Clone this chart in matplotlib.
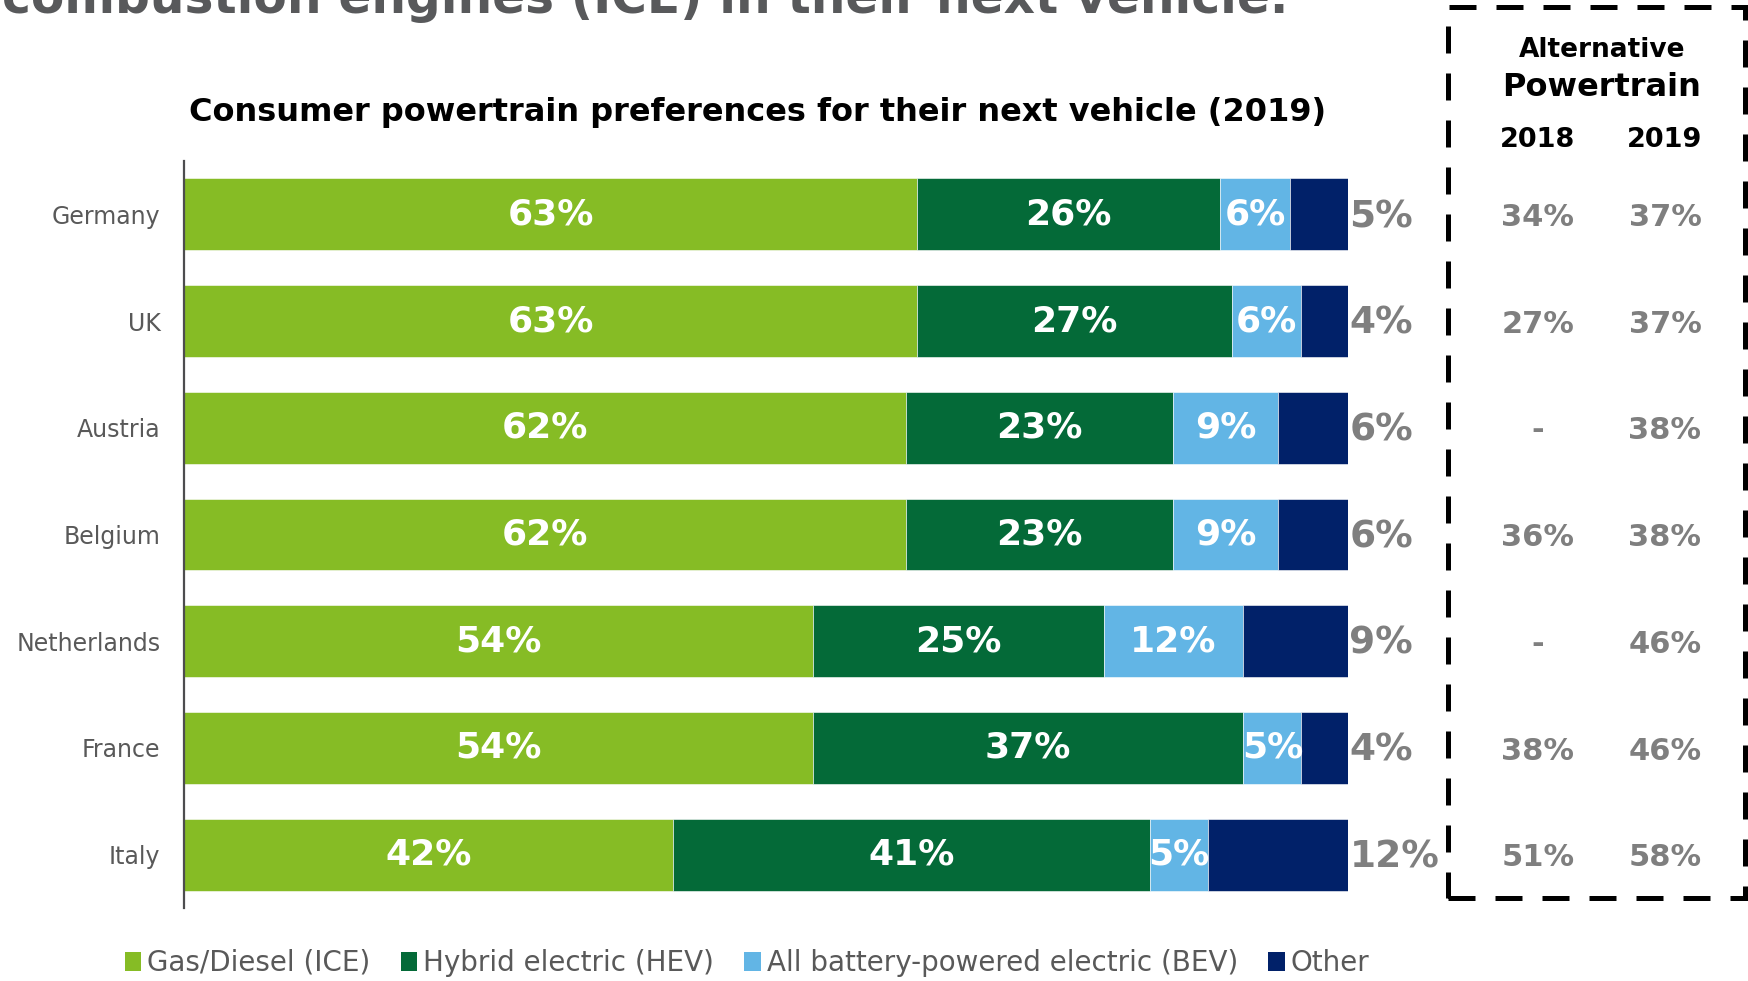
import matplotlib
matplotlib.use("Agg")
import matplotlib.pyplot as plt
import numpy as np
from matplotlib.patches import Rectangle, Patch
from matplotlib.transforms import blended_transform_factory

countries = ["Germany", "UK", "Austria", "Belgium", "Netherlands", "France", "Italy"]
ice = [63, 63, 62, 62, 54, 54, 42]
hev = [26, 27, 23, 23, 25, 37, 41]
bev = [6, 6, 9, 9, 12, 5, 5]
other = [5, 4, 6, 6, 9, 4, 12]
alt_2018 = ["34%", "27%", "-", "36%", "-", "38%", "51%"]
alt_2019 = ["37%", "37%", "38%", "38%", "46%", "46%", "58%"]

series_names = ["Gas/Diesel (ICE)", "Hybrid electric (HEV)",
                "All battery-powered electric (BEV)", "Other"]
colors = ["#86bc25", "#046a38", "#62b5e5", "#012169"]
GRAY = "#7f7f7f"
DARK = "#595959"

W, H = 1749, 981
fig = plt.figure(figsize=(W / 100, H / 100), dpi=100)
ax = fig.add_axes([184 / W, 1 - 908 / H, (1348 - 184) / W, (908 - 161) / H])

y = np.arange(len(countries))
left = np.zeros(len(countries))
for i, vals in enumerate([ice, hev, bev, other]):
    vals = np.array(vals, dtype=float)
    ax.barh(y, vals, left=left, height=0.674, color=colors[i],
            edgecolor="white", linewidth=0.4)
    if i < 3:
        for yy, l, v in zip(y, left, vals):
            ax.text(l + v / 2, yy, f"{int(v)}%", ha="center", va="center",
                    color="white", fontsize=26, fontweight="bold")
    else:
        for yy, v in zip(y, vals):
            ax.annotate(f"{int(v)}%", (100, yy), xytext=(1, -2),
                        textcoords="offset points", ha="left", va="center",
                        color=GRAY, fontsize=27, fontweight="bold",
                        annotation_clip=False)
    left = left + vals

ax.set_xlim(0, 100)
ax.set_ylim(len(countries) - 0.5, -0.5)
ax.set_yticks(y)
ax.set_yticklabels(countries, fontsize=17, color=DARK)
ax.tick_params(axis="y", length=0, pad=17)
ax.set_xticks([])
for s in ["top", "right", "bottom"]:
    ax.spines[s].set_visible(False)
ax.spines["left"].set_color("#4d4d4f")
ax.spines["left"].set_linewidth(1.6)

# side table of alternative powertrain shares
tr = blended_transform_factory(fig.transFigure, ax.transData)
for yy, a, b in zip(y, alt_2018, alt_2019):
    fig.text(1538 / W, yy + 0.03, a, transform=tr, ha="center", va="center",
             color=GRAY, fontsize=22, fontweight="bold")
    fig.text(1665 / W, yy + 0.03, b, transform=tr, ha="center", va="center",
             color=GRAY, fontsize=22, fontweight="bold")

fig.text(1602 / W, 1 - 50 / H, "Alternative", ha="center", va="center",
         fontsize=19, fontweight="bold", color="black")
fig.text(1602 / W, 1 - 87 / H, "Powertrain", ha="center", va="center",
         fontsize=23, fontweight="bold", color="black")
fig.text(1538 / W, 1 - 140 / H, "2018", ha="center", va="center",
         fontsize=19.5, fontweight="bold", color="black")
fig.text(1665 / W, 1 - 140 / H, "2019", ha="center", va="center",
         fontsize=19.5, fontweight="bold", color="black")

box = Rectangle((1448 / W, 1 - 898 / H), (1745 - 1448) / W, (898 - 7) / H,
                transform=fig.transFigure, fill=False, edgecolor="black",
                linewidth=3.6, linestyle=(0, (5.4, 4.0)), clip_on=False)
fig.add_artist(box)

# titles
fig.text(2 / W, 1 - 13 / H, "combustion engines (ICE) in their next vehicle.",
         ha="left", va="baseline", fontsize=35, fontweight="bold", color="#58595b")
fig.text(758 / W, 1 - 113 / H,
         "Consumer powertrain preferences for their next vehicle (2019)",
         ha="center", va="center", fontsize=23, fontweight="bold", color="black")

handles = [Patch(facecolor=c, edgecolor="none") for c in colors]
leg = fig.legend(handles, series_names, loc="center",
                 bbox_to_anchor=(747 / W, 1 - 963 / H), ncol=4, frameon=False,
                 fontsize=20, handlelength=0.6, handleheight=0.7,
                 handletextpad=0.2, columnspacing=1.1)
for t in leg.get_texts():
    t.set_color(DARK)

fig.savefig("out.png", dpi=100)
